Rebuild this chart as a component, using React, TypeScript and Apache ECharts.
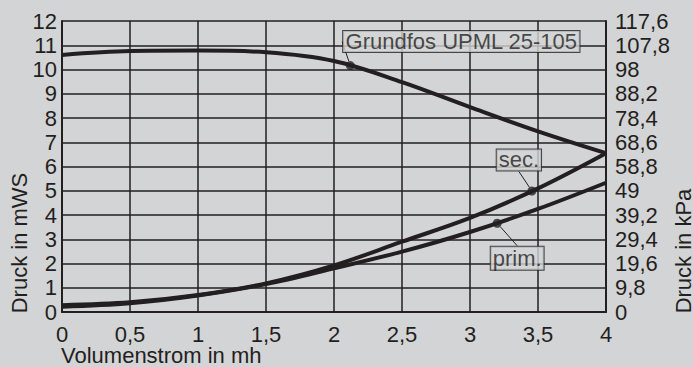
import React, { useEffect, useRef } from "react";
import * as echarts from "echarts";

const xTicks = [0, 0.5, 1, 1.5, 2, 2.5, 3, 3.5, 4];
const kpaLabels = ["0", "9,8", "19,6", "29,4", "39,2", "49", "58,8", "68,6", "78,4", "88,2", "98", "107,8", "117,6"];

const pumpCurve: [number, number][] = [
  [0, 10.6], [0.5, 10.76], [1, 10.78], [1.5, 10.71], [2, 10.35], [2.5, 9.48], [3, 8.45], [3.5, 7.45], [4, 6.55],
];
const secCurve: [number, number][] = [
  [0, 0.28], [0.5, 0.4], [1, 0.7], [1.5, 1.18], [2, 1.92], [2.5, 2.9], [3, 3.88], [3.5, 5.1], [4, 6.55],
];
const primCurve: [number, number][] = [
  [0, 0.22], [0.5, 0.36], [1, 0.68], [1.5, 1.15], [2, 1.8], [2.5, 2.49], [3, 3.3], [3.5, 4.25], [4, 5.33],
];

const pumpDot: [number, number] = [2.12, 10.16];
const secDot: [number, number] = [3.455, 4.99];
const primDot: [number, number] = [3.2, 3.66];

const pumpName = "Grundfos UPML 25-105";
const secName = "sec.";
const primName = "prim.";

const INK = "#231f20";
const BG = "#d3d4d6";
const FONT = 'Arial, "Liberation Sans", sans-serif';
const FS = 22;

function dotSeries(name: string, pt: [number, number], dx: number, dy: number, padV: number) {
  return {
    type: "scatter",
    name,
    data: [pt],
    symbol: "circle",
    symbolSize: 9,
    itemStyle: { color: INK },
    z: 5,
    label: {
      show: true,
      position: "inside",
      formatter: name,
      color: INK,
      fontFamily: FONT,
      fontSize: FS,
      lineHeight: 20,
      backgroundColor: BG,
      borderColor: INK,
      borderWidth: 1,
      padding: [padV, 2, 0, 2],
    },
    labelLayout: { dx, dy },
    labelLine: { show: true, lineStyle: { color: INK, width: 1 } },
  };
}

export default function App() {
  const ref = useRef<HTMLDivElement>(null);
  useEffect(() => {
    if (!ref.current) return;
    const chart = echarts.init(ref.current, undefined, { renderer: "svg" });
    const lineSeries = (name: string, data: [number, number][]) => ({
      type: "line",
      name,
      data,
      smooth: 0.35,
      showSymbol: false,
      lineStyle: { color: INK, width: 4 },
      z: 3,
    });
    chart.setOption({
      animation: false,
      backgroundColor: BG,
      textStyle: { fontFamily: FONT },
      grid: { left: 62, right: 87, top: 21, bottom: 55 },
      xAxis: {
        type: "value",
        min: 0,
        max: 4,
        interval: 0.5,
        axisLine: { show: true, lineStyle: { color: INK, width: 2 } },
        axisTick: { show: false },
        splitLine: { show: true, lineStyle: { color: INK, width: 1.5 } },
        axisLabel: {
          color: INK,
          fontSize: FS,
          lineHeight: 12,
          margin: 16,
          formatter: (v: number) => String(xTicks.find((t) => Math.abs(t - v) < 1e-6) ?? v).replace(".", ","),
        },
      },
      yAxis: [
        {
          type: "value",
          min: 0,
          max: 12,
          interval: 1,
          axisLine: { show: true, lineStyle: { color: INK, width: 2 } },
          axisTick: { show: false },
          splitLine: { show: true, lineStyle: { color: INK, width: 1.5 } },
          axisLabel: { color: INK, fontSize: FS, lineHeight: 18, margin: 5 },
        },
        {
          type: "value",
          min: 0,
          max: 12,
          interval: 1,
          position: "right",
          axisLine: { show: true, lineStyle: { color: INK, width: 2 } },
          axisTick: { show: false },
          splitLine: { show: false },
          axisLabel: {
            color: INK,
            fontSize: FS,
            lineHeight: 18,
            margin: 9,
            formatter: (v: number) => kpaLabels[Math.round(v)] ?? "",
          },
        },
      ],
      graphic: [
        {
          type: "text",
          x: 61,
          y: 355,
          style: {
            text: "Volumenstrom in mh",
            fill: INK,
            fontSize: FS,
            fontFamily: FONT,
            lineHeight: 12,
            verticalAlign: "middle",
          },
        },
        {
          type: "text",
          x: 19,
          y: 243,
          rotation: Math.PI / 2,
          style: {
            text: "Druck in mWS",
            fill: INK,
            fontSize: FS,
            fontFamily: FONT,
            lineHeight: 18,
            align: "center",
            verticalAlign: "middle",
          },
        },
        {
          type: "text",
          x: 683,
          y: 251,
          rotation: Math.PI / 2,
          style: {
            text: "Druck in kPa",
            fill: INK,
            fontSize: FS,
            fontFamily: FONT,
            lineHeight: 14,
            align: "center",
            verticalAlign: "middle",
          },
        },
      ],
      series: [
        lineSeries("pump", pumpCurve),
        lineSeries("sec", secCurve),
        lineSeries("prim", primCurve),
        dotSeries(pumpName, pumpDot, 111, -24, 1),
        dotSeries(secName, secDot, -13, -31, 1),
        dotSeries(primName, primDot, 20, 35, 3),
      ],
    });
    return () => chart.dispose();
  }, []);
  return <div ref={ref} style={{ width: 693, height: 367, position: "absolute", left: 0, top: 0 }} />;
}
